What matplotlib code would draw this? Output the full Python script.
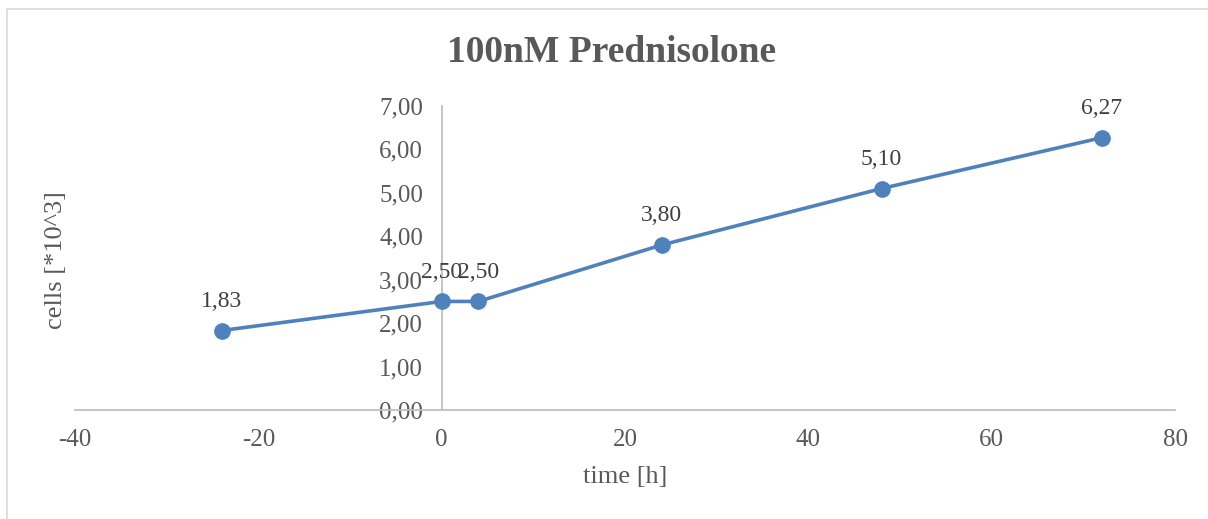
import matplotlib.pyplot as plt
from matplotlib.ticker import FuncFormatter, MultipleLocator
from matplotlib.patches import Rectangle

# measurements
time_h = [-24, 0, 4, 24, 48, 72]
cells = [1.83, 2.50, 2.50, 3.80, 5.10, 6.27]

plt.rcParams['font.family'] = ['Liberation Serif', 'DejaVu Serif']
plt.rcParams['axes.unicode_minus'] = False

grey = '#595959'
blue = '#4f81bd'

fig = plt.figure(figsize=(12.08, 5.19), dpi=100)
ax = fig.add_axes([75 / 1208, 109 / 519, 1100 / 1208, 304 / 519])

ax.plot(time_h, cells, color=blue, lw=2.6, marker='o', ms=11,
        solid_capstyle='round', zorder=3, clip_on=False)

# value labels above each point
for x, y in zip(time_h, cells):
    ax.annotate(f'{y:.2f}'.replace('.', ','), (x, y), xytext=(0, 13.5),
                textcoords='offset points', ha='center', va='bottom',
                fontsize=17, color='#404040')

ax.set_xlim(-40, 80)
ax.set_ylim(0, 7)
ax.xaxis.set_major_locator(MultipleLocator(20))
ax.yaxis.set_major_locator(MultipleLocator(1))
ax.yaxis.set_major_formatter(FuncFormatter(lambda v, p: f'{v:.2f}'.replace('.', ',')))

# axes cross at the origin
for side in ['top', 'right']:
    ax.spines[side].set_visible(False)
ax.spines['left'].set_position(('data', 0))
ax.spines['bottom'].set_position(('data', 0))
for side in ['left', 'bottom']:
    ax.spines[side].set_color('#bfbfbf')
    ax.spines[side].set_linewidth(1.3)

ax.tick_params(axis='both', length=0, labelsize=18, labelcolor=grey)
ax.tick_params(axis='y', pad=13.5)
ax.tick_params(axis='x', pad=14)

fig.text(612 / 1208, 1 - 53 / 519, '100nM Prednisolone', ha='center', va='center',
         fontsize=27, fontweight='bold', color=grey)
fig.text(625 / 1208, 1 - 477 / 519, 'time [h]', ha='center', va='center',
         fontsize=19, color=grey)
fig.text(56 / 1208, 1 - 260 / 519, 'cells [*10^3]', ha='center', va='center',
         rotation=90, fontsize=19, color=grey)

# chart area frame
fig.patches.append(Rectangle((7 / 1208, -0.1), 1.2, 1 - 9 / 519 + 0.1,
                             transform=fig.transFigure, fill=False,
                             edgecolor='#d9d9d9', lw=1.2))

fig.savefig('out.png', dpi=100)
